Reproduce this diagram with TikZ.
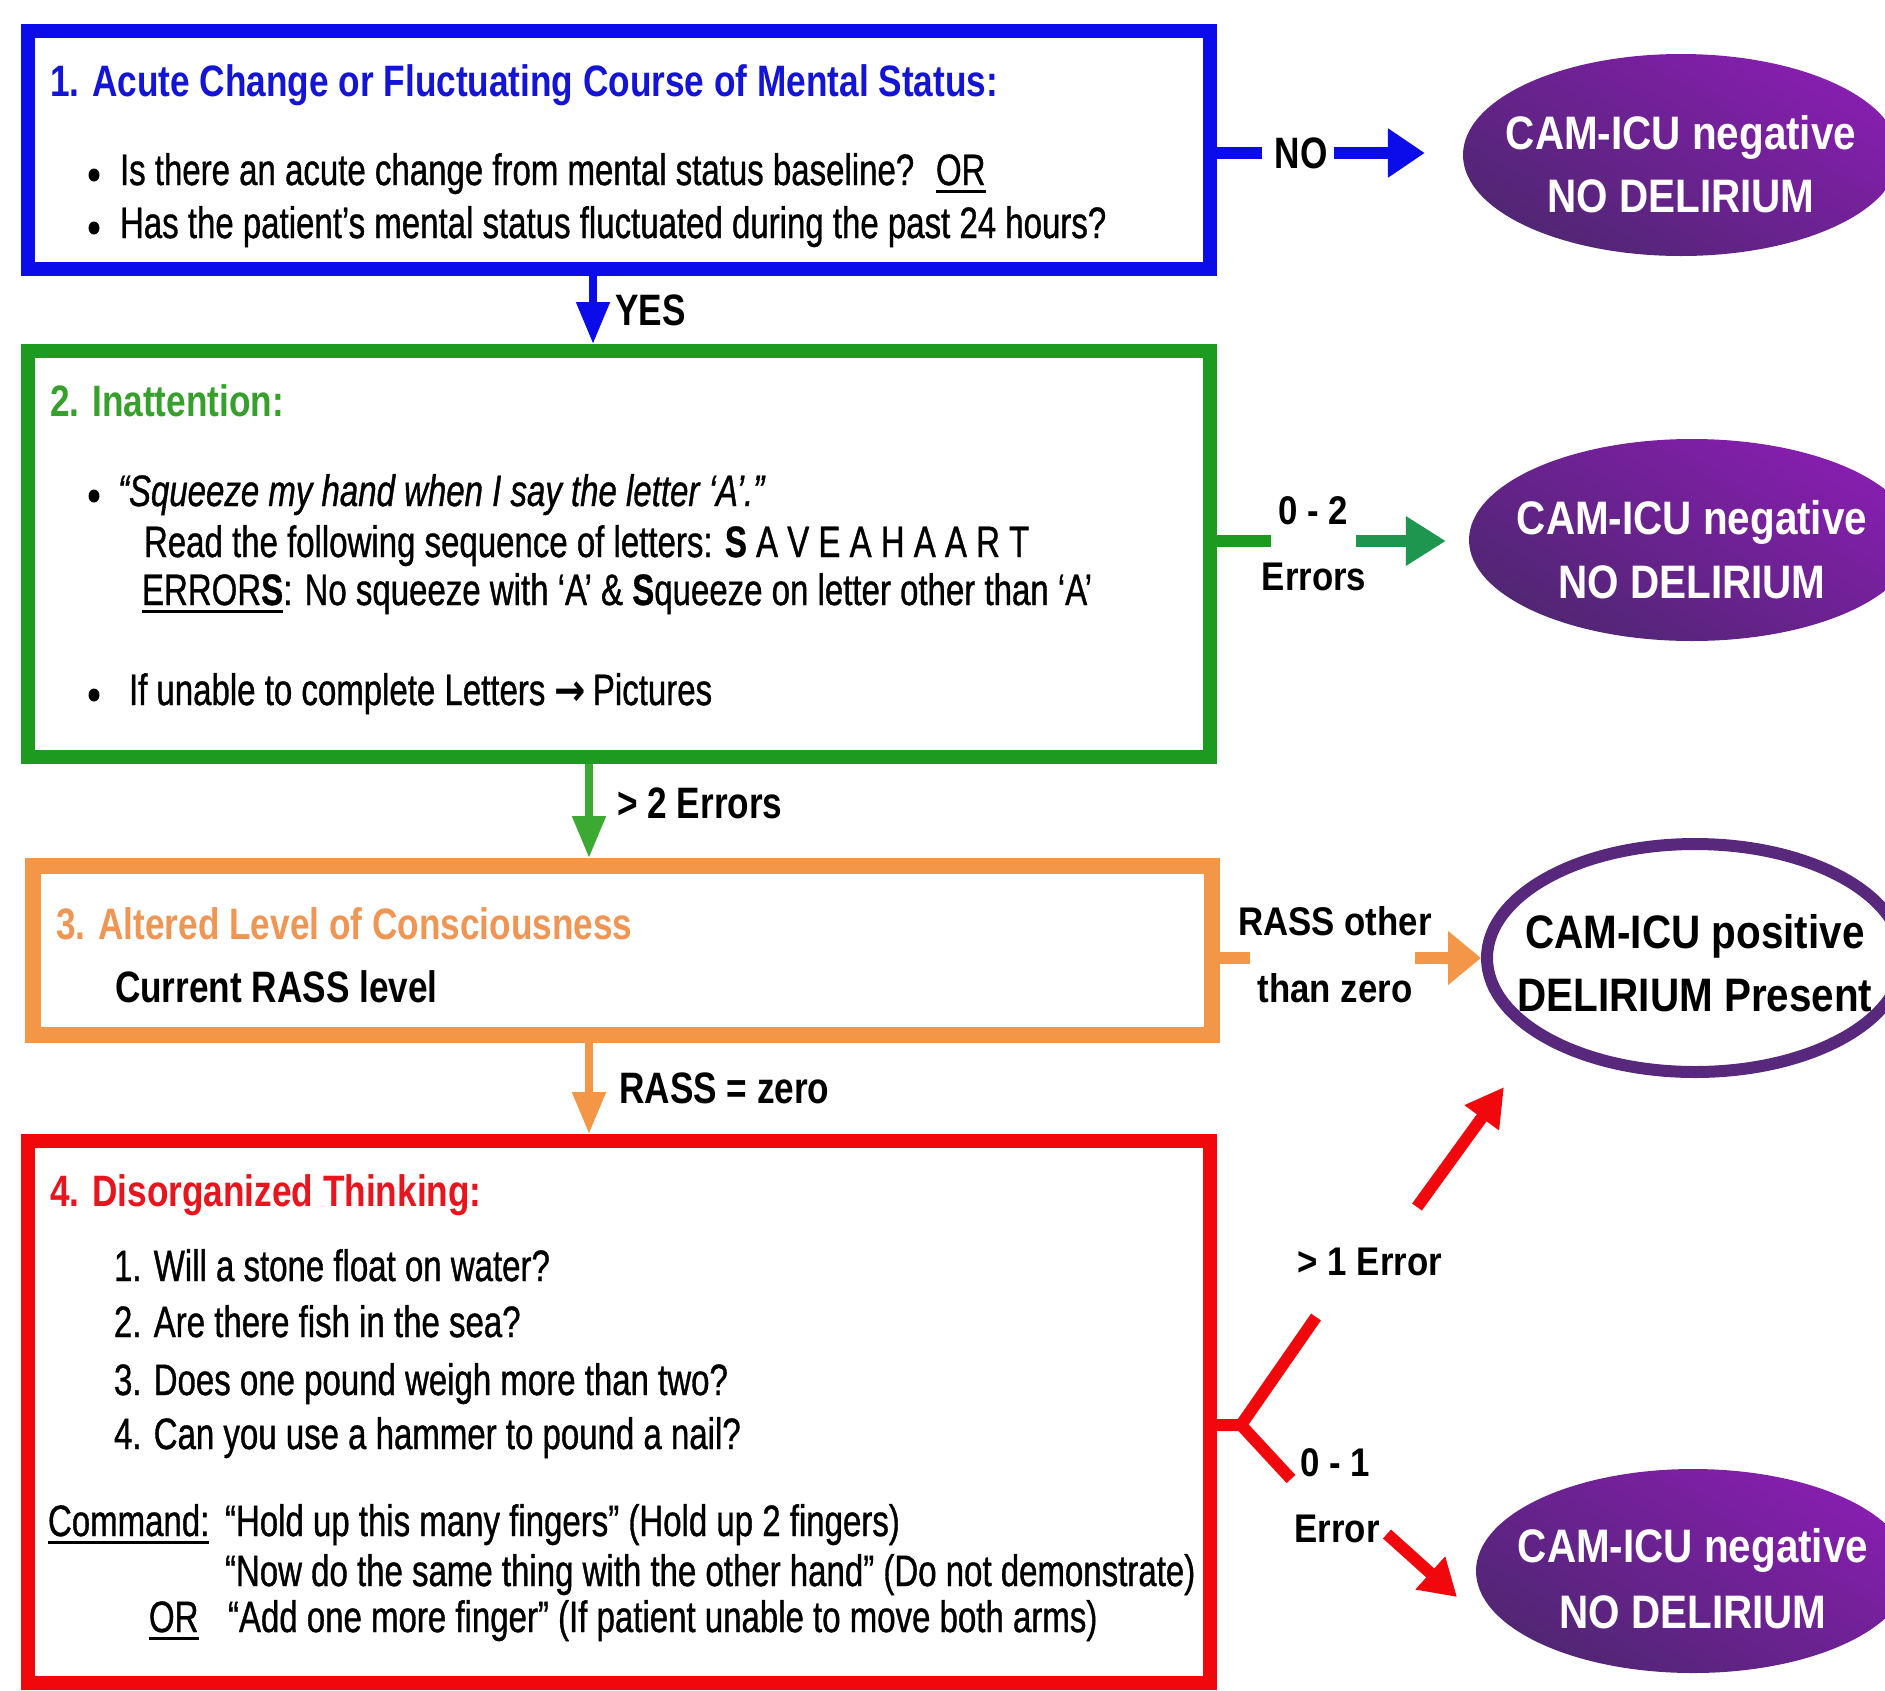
\documentclass[tikz,border=0pt]{standalone}
\usepackage{fontspec}
\setmainfont{Liberation Sans}
\newfontfamily\bodyf[FakeStretch=0.75,FakeBold=0.8]{Liberation Sans}
\newfontfamily\headf[FakeStretch=0.80]{Liberation Sans}
\newfontfamily\ellf[FakeStretch=0.86]{Liberation Sans}
\newfontfamily\labf[FakeStretch=0.87]{Liberation Sans}
\newfontfamily\arrf[FakeStretch=0.85]{DejaVu Sans}
\usetikzlibrary{arrows.meta,shapes.geometric}
\definecolor{cblue}{RGB}{12,12,235}
\definecolor{cgreen}{RGB}{28,155,32}
\definecolor{cgreenB}{RGB}{30,150,80}
\definecolor{cgreenC}{RGB}{60,170,50}
\definecolor{corange}{RGB}{243,150,72}
\definecolor{cred}{RGB}{240,8,12}
\definecolor{ptop}{RGB}{135,30,175}
\definecolor{pbot}{RGB}{80,38,115}
\definecolor{pedge}{RGB}{88,40,125}
\definecolor{hblue}{RGB}{20,20,215}
\definecolor{hgreen}{RGB}{55,160,45}
\definecolor{horange}{RGB}{240,150,85}
\definecolor{hred}{RGB}{232,20,30}
\newsavebox\ulbox
\newcommand\ulx[1]{\sbox\ulbox{#1}\rlap{\rule[-8pt]{\wd\ulbox}{3pt}}\usebox\ulbox}
\tikzset{
  box/.style={draw, rectangle, line width=14pt, inner sep=0pt},
  txt/.style={anchor=base west, inner sep=0pt, outer sep=0pt},
  hd/.style={txt, font=\headf\bfseries\fontsize{44}{52}\selectfont},
  hdc/.style={inner sep=0pt, anchor=west, font=\headf\bfseries\fontsize{44}{52}\selectfont},
  bd/.style={txt, font=\bodyf\fontsize{44}{52}\selectfont},
  lab/.style={inner sep=0pt, font=\labf\bfseries\fontsize{40}{48}\selectfont},
  et/.style={anchor=base, inner sep=0pt, font=\ellf\bfseries\fontsize{47}{56}\selectfont},
  bul/.style={ellipse, fill=black, inner sep=0pt, minimum width=11pt, minimum height=13pt},
  negell/.style={ellipse, inner sep=0pt, top color=ptop, bottom color=pbot, shading angle=-30},
  posell/.style={ellipse, inner sep=0pt, draw=pedge, line width=12pt, fill=white},
  darr/.style={line width=8pt, -{Triangle[length=42pt,width=32pt]}},
  sline/.style={line width=12pt},
  sarr/.style={line width=12pt}
}
\begin{document}
\begin{tikzpicture}[x=1pt, y=-1pt]
\useasboundingbox (0,0) rectangle (1885,1690);
\clip (0,0) rectangle (1885,1690);
\fill[white] (0,0) rectangle (1885,1690);

% boxes
\node[box, draw=cblue, minimum width=1182pt, minimum height=238pt] (b1) at (619,150) {};
\node[box, draw=cgreen, minimum width=1182pt, minimum height=406pt] (b2) at (619,554) {};
\node[box, draw=corange, line width=16pt, minimum width=1179pt, minimum height=169pt] (b3) at (622.5,950.5) {};
\node[box, draw=cred, minimum width=1182pt, minimum height=542pt] (b4) at (619,1412) {};

% box 1 text
\node[hd, text=hblue] (h1) at (50,96) {1. Acute Change or Fluctuating Course of Mental Status:};
\node[bul] (u1) at (94,175) {};
\node[bd] (t1a) at (120,185) {Is there an acute change from mental status baseline?};
\node[bd] (t1or) at (936,185) {\ulx{OR}};
\node[bul] (u2) at (94,228) {};
\node[bd] (t1b) at (120,238) {Has the patient’s mental status fluctuated during the past 24 hours?};

% box 2 text
\node[hd, text=hgreen] (h2) at (50,416) {2. Inattention:};
\node[bul] (u3) at (94,496) {};
\node[bd] (t2a) at (118,506) {\itshape “Squeeze my hand when I say the letter ‘A’.”};
\node[bd] (t2b) at (144,557) {Read the following sequence of letters: \textbf{S} A V E A H A A R T};
\node[bd] (t2c) at (142,605) {\ulx{ERROR\textbf{S}}: No squeeze with ‘A’ \& \textbf{S}queeze on letter other than ‘A’};
\node[bul] (u4) at (94,695) {};
\node[bd] (t2d) at (129,705) {If unable to complete Letters {\arrf\bfseries →}\hspace{7pt}Pictures};

% box 3 text
\node[hd, text=horange] (h3) at (56,939) {3. Altered Level of Consciousness};
\node[hd] (t3) at (115,1002) {Current RASS level};

% box 4 text
\node[hd, text=hred] (h4) at (50,1206) {4. Disorganized Thinking:};
\node[bd] (q1) at (114,1281) {1. Will a stone float on water?};
\node[bd] (q2) at (114,1337) {2. Are there fish in the sea?};
\node[bd] (q3) at (114,1395) {3. Does one pound weigh more than two?};
\node[bd] (q4) at (114,1449) {4. Can you use a hammer to pound a nail?};
\node[bd] (cmd) at (48,1536) {\ulx{Command:}};
\node[bd] (c1) at (225,1536) {“Hold up this many fingers” (Hold up 2 fingers)};
\node[bd] (c2) at (225,1586) {“Now do the same thing with the other hand” (Do not demonstrate)};
\node[bd] (or2) at (149,1632) {\ulx{OR}};
\node[bd] (c3) at (228,1632) {“Add one more finger” (If patient unable to move both arms)};

% ellipses
\node[negell, minimum width=436pt, minimum height=202pt] (e1) at (1681,155) {};
\node[et, text=white] (e1a) at (1681,149) {CAM-ICU negative};
\node[et, text=white] (e1b) at (1681,212) {NO DELIRIUM};
\node[negell, minimum width=446pt, minimum height=202pt] (e2) at (1692,540) {};
\node[et, text=white] (e2a) at (1692,534) {CAM-ICU negative};
\node[et, text=white] (e2b) at (1692,598) {NO DELIRIUM};
\node[posell, minimum width=416pt, minimum height=228pt] (e3) at (1695,958) {};
\node[et, text=black] (e3a) at (1695,948) {CAM-ICU positive};
\node[et, text=black] (e3b) at (1695,1011) {DELIRIUM Present};
\node[negell, minimum width=434pt, minimum height=204pt] (e4) at (1693,1571) {};
\node[et, text=white] (e4a) at (1693,1562) {CAM-ICU negative};
\node[et, text=white] (e4b) at (1693,1628) {NO DELIRIUM};

% vertical connectors
\draw[darr, cblue] ([xshift=572pt]b1.south west) -- ([xshift=572pt]b1.south west |- b2.north);
\node[hdc] (yes) at (615,310) {YES};
\draw[darr, cgreenC] ([xshift=568pt]b2.south west) -- ([xshift=568pt]b2.south west |- b3.north);
\node[hdc] (err2) at (617,803) {> 2 Errors};
\draw[darr, corange] ([xshift=564pt]b3.south west) -- ([xshift=564pt]b3.south west |- b4.north);
\node[hdc] (rz) at (619,1088) {RASS = zero};

% NO branch
\node[hdc, anchor=center] (no) at (1301,153) {NO};
\draw[sline, cblue] (b1.east |- no) -- ([xshift=-12pt]no.west);
\draw[sarr, cblue, -{Triangle[length=37pt,width=47pt]}, shorten >=38pt] ([xshift=6pt]no.east) -- (no -| e1.west);

% 0-2 errors branch
\node[lab] (l02) at (1313,511) {0 - 2};
\node[lab] (lerr) at (1314,577) {Errors};
\coordinate (gs) at (1271,541);
\draw[sline, cgreen] (b2.east |- gs) -- (gs);
\coordinate (ga) at (1356,541);
\draw[sarr, cgreenB, -{Triangle[length=40pt,width=47pt]}, shorten >=23pt] (ga) -- (ga -| e2.west);

% RASS other than zero
\node[lab] (lro) at (1335,921) {RASS other};
\node[lab] (ltz) at (1335,988) {than zero};
\coordinate (os) at (1250,958);
\draw[sline, corange] (b3.east |- os) -- (os);
\coordinate (oa) at (1415,958);
\draw[sarr, corange, -{Triangle[length=33pt,width=52pt]}] (oa) -- (oa -| e3.west);

% red fork
\coordinate (fork) at (1241,1425);
\coordinate (fu) at (1316,1317);
\coordinate (fd) at (1291,1479);
\draw[sline, cred, line join=round] (b4.east |- fork) -- (fork) -- (fu);
\draw[sline, cred] (fork) -- (fd);
\coordinate (ua) at (1417,1207);
\coordinate (ut) at (1504,1087);
\draw[sarr, cred, -{Triangle[length=38pt,width=40pt]}] (ua) -- (ut);
\coordinate (da) at (1387,1534);
\coordinate (dt) at (1457,1597);
\draw[sarr, cred, -{Triangle[length=36pt,width=42pt]}] (da) -- (dt);
\node[lab] (l1e) at (1370,1262) {> 1 Error};
\node[lab] (l01) at (1335,1463) {0 - 1};
\node[lab] (lerr2) at (1337,1529) {Error};
\end{tikzpicture}
\end{document}
